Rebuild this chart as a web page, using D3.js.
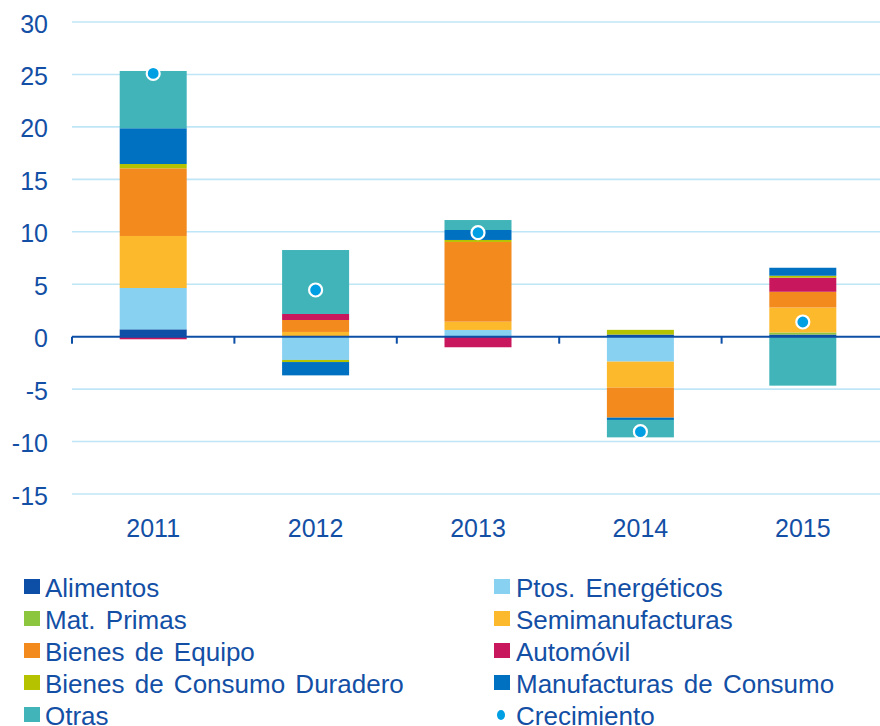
<!DOCTYPE html>
<html>
<head>
<meta charset="utf-8">
<script src="https://cdn.jsdelivr.net/npm/d3@7"></script>
<style>
  body { margin: 0; background: #fff; }
  svg { display: block; font-family: "Liberation Sans", Arial, sans-serif; }
</style>
</head>
<body>
<div id="chart"></div>
<script>
// data (contribution in points, by product group)
var years = ["2011", "2012", "2013", "2014", "2015"];

var alimentos             = [0.70, 0.00, 0.00, 0.20, 0.20];
var ptosEnergeticos       = [3.94, -2.22, 0.64, -2.38, 0.00];
var matPrimas             = [0.00, 0.00, 0.00, 0.00, 0.20];
var semimanufacturas      = [4.96, 0.45, 0.79, -2.48, 2.38];
var bienesEquipo          = [6.45, 1.14, 7.60, -2.86, 1.50];
var automovil             = [-0.25, 0.57, -1.01, 0.00, 1.34];
var bienesConsumoDuradero = [0.41, -0.20, 0.19, 0.45, 0.19];
var manufacturasConsumo   = [3.41, -1.27, 0.95, -0.22, 0.76];
var otras                 = [5.46, 6.10, 0.95, -1.66, -4.67];
var crecimiento           = [25.1, 4.45, 9.91, -9.06, 1.40];

var yTicks = [30, 25, 20, 15, 10, 5, 0, -5, -10, -15];

var series = [
  { key: "Alimentos", values: alimentos, color: "#0d4ea6" },
  { key: "Ptos. Energéticos", values: ptosEnergeticos, color: "#88d1f1" },
  { key: "Mat. Primas", values: matPrimas, color: "#8cc63e" },
  { key: "Semimanufacturas", values: semimanufacturas, color: "#fdb92c" },
  { key: "Bienes de Equipo", values: bienesEquipo, color: "#f28a1e" },
  { key: "Automóvil", values: automovil, color: "#c8175c" },
  { key: "Bienes de Consumo Duradero", values: bienesConsumoDuradero, color: "#b5c200" },
  { key: "Manufacturas de Consumo", values: manufacturasConsumo, color: "#0070c0" },
  { key: "Otras", values: otras, color: "#40b4b9" }
];

var textColor = "#134fa5";
var W = 880, H = 726;

var svg = d3.select("#chart").append("svg")
  .attr("width", W)
  .attr("height", H);

// table for d3.stack
var table = years.map(function (y, i) {
  var row = { year: y };
  series.forEach(function (s) { row[s.key] = s.values[i]; });
  return row;
});

var stacked = d3.stack()
  .keys(series.map(function (s) { return s.key; }))
  .offset(d3.stackOffsetDiverging)(table);

var x = d3.scaleBand()
  .domain(years)
  .range([72, 884]);

var y = d3.scaleLinear()
  .domain([-15, 30])
  .range([494, 22]);

// grid lines
svg.append("g")
  .selectAll("line")
  .data(yTicks.filter(function (d) { return d !== 0; }))
  .join("line")
  .attr("x1", 72).attr("x2", W)
  .attr("y1", function (d) { return y(d); })
  .attr("y2", function (d) { return y(d); })
  .attr("stroke", "#bfe6f6")
  .attr("stroke-width", 1.6);

// y tick labels
svg.append("g")
  .selectAll("text")
  .data(yTicks)
  .join("text")
  .attr("x", 48)
  .attr("y", function (d) { return y(d) + 10.5; })
  .attr("text-anchor", "end")
  .attr("font-size", 25)
  .attr("fill", textColor)
  .text(function (d) { return d; });

// bars
var bw = 67;
svg.append("g")
  .selectAll("g")
  .data(stacked)
  .join("g")
  .attr("fill", function (d, i) { return series[i].color; })
  .selectAll("rect")
  .data(function (d) { return d; })
  .join("rect")
  .attr("x", function (d) { return x(d.data.year) + x.bandwidth() / 2 - bw / 2; })
  .attr("width", bw)
  .attr("y", function (d) { return y(Math.max(d[0], d[1])); })
  .attr("height", function (d) { return Math.abs(y(d[0]) - y(d[1])); });

// zero axis with tick marks between categories
var axis = svg.append("g");
axis.append("line")
  .attr("x1", 72).attr("x2", W)
  .attr("y1", y(0)).attr("y2", y(0))
  .attr("stroke", "#0d4ea6")
  .attr("stroke-width", 2);
axis.selectAll(".tick")
  .data(years)
  .join("line")
  .attr("class", "tick")
  .attr("x1", function (d) { return x(d); })
  .attr("x2", function (d) { return x(d); })
  .attr("y1", y(0)).attr("y2", y(0) + 7)
  .attr("stroke", "#0d4ea6")
  .attr("stroke-width", 2);

// x labels
svg.append("g")
  .selectAll("text")
  .data(years)
  .join("text")
  .attr("x", function (d) { return x(d) + x.bandwidth() / 2; })
  .attr("y", 537)
  .attr("text-anchor", "middle")
  .attr("font-size", 25)
  .attr("fill", textColor)
  .text(function (d) { return d; });

// growth dots
svg.append("g")
  .selectAll("circle")
  .data(crecimiento)
  .join("circle")
  .attr("cx", function (d, i) { return x(years[i]) + x.bandwidth() / 2; })
  .attr("cy", function (d) { return y(d); })
  .attr("r", 6.5)
  .attr("fill", "#009fe3")
  .attr("stroke", "#fff")
  .attr("stroke-width", 2.2);

// legend, two columns
var legendItems = series.map(function (s) { return { key: s.key, color: s.color, type: "rect" }; });
legendItems.push({ key: "Crecimiento", color: "#009fe3", type: "dot" });

var legend = svg.append("g")
  .selectAll("g")
  .data(legendItems)
  .join("g")
  .attr("transform", function (d, i) {
    var col = i % 2, row = Math.floor(i / 2);
    return "translate(" + (col === 0 ? 24 : 494) + "," + (597 + row * 32) + ")";
  });

legend.filter(function (d) { return d.type === "rect"; })
  .append("rect")
  .attr("x", 0).attr("y", -18)
  .attr("width", 16).attr("height", 15)
  .attr("fill", function (d) { return d.color; });

legend.filter(function (d) { return d.type === "dot"; })
  .append("ellipse")
  .attr("cx", 7).attr("cy", -10)
  .attr("rx", 4).attr("ry", 5)
  .attr("fill", function (d) { return d.color; });

legend.append("text")
  .attr("x", function (d, i) { return i % 2 === 0 ? 21 : 22; })
  .attr("y", 0)
  .attr("font-size", 26)
  .attr("word-spacing", 3)
  .attr("fill", textColor)
  .text(function (d) { return d.key; });
</script>
</body>
</html>
